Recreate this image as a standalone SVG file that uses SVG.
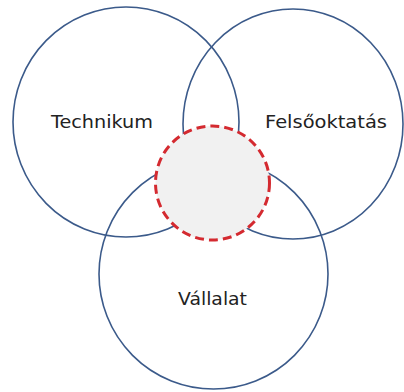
<svg xmlns="http://www.w3.org/2000/svg" width="404" height="392" viewBox="0 0 404 392">
<style>
.set{fill:none;stroke:#3b5a8a;stroke-width:1.6}
.core{fill:#f1f1f1;stroke:#d42a30;stroke-width:3;stroke-dasharray:9 5}
.lbl{font-family:"DejaVu Sans",sans-serif;font-size:18px;fill:#222}
</style>
<rect width="404" height="392" fill="#fff"/>
<g id="technikum"><ellipse class="set" cx="126" cy="122" rx="113" ry="115"/><text class="lbl" x="51" y="128" textLength="102" lengthAdjust="spacingAndGlyphs">Technikum</text></g>
<g id="felsooktatas"><ellipse class="set" cx="293" cy="124" rx="110" ry="115"/><text class="lbl" x="265" y="128" textLength="122" lengthAdjust="spacingAndGlyphs">Felsőoktatás</text></g>
<g id="vallalat"><ellipse class="set" cx="213.5" cy="274" rx="114.5" ry="115"/><text class="lbl" x="178" y="305" textLength="69" lengthAdjust="spacingAndGlyphs">Vállalat</text></g>
<g id="kozos"><circle class="core" cx="212.5" cy="183" r="57"/></g>
<g id="connectors"></g>
</svg>
